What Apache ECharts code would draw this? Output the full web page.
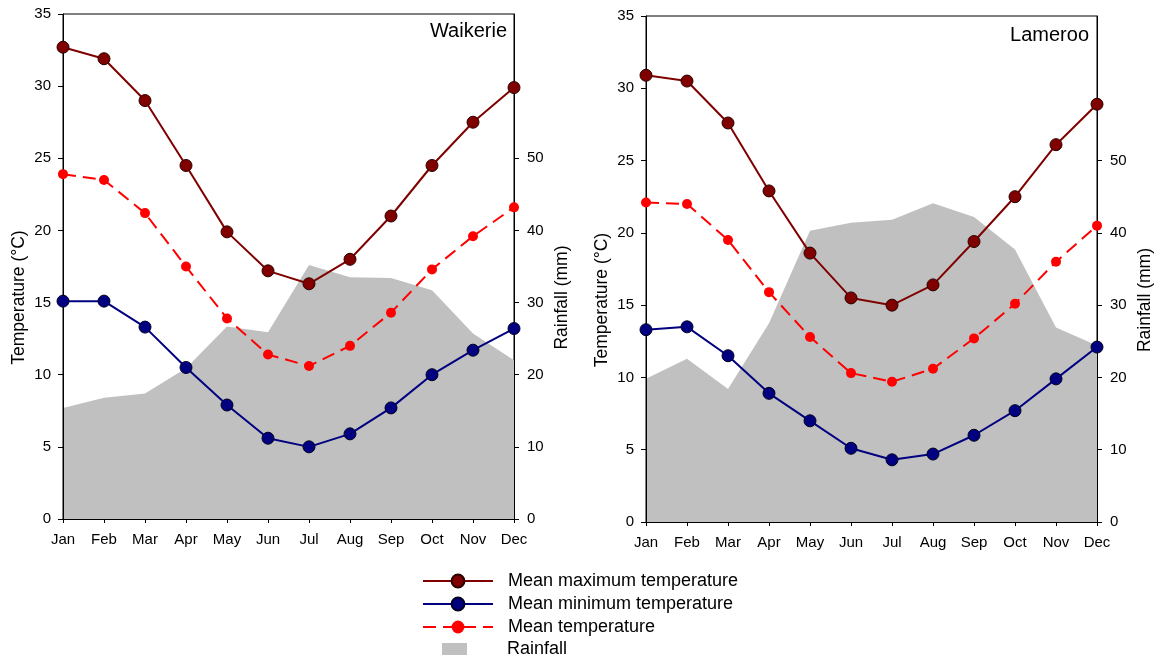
<!DOCTYPE html>
<html>
<head>
<meta charset="utf-8">
<script src="https://cdn.jsdelivr.net/npm/echarts@6/dist/echarts.min.js"></script>
<style>
html,body{margin:0;padding:0;background:#fff;}
#chart{width:1161px;height:662px;}
</style>
</head>
<body>
<div id="chart"></div>
<script>
// ---- Data ----
const months = ['Jan','Feb','Mar','Apr','May','Jun','Jul','Aug','Sep','Oct','Nov','Dec'];
const stations = ['Waikerie', 'Lameroo'];

const waikerieMax  = [32.7, 31.9, 29.0, 24.5, 19.9, 17.2, 16.3, 18.0, 21.0, 24.5, 27.5, 29.9];
const waikerieMean = [23.9, 23.5, 21.2, 17.5, 13.9, 11.4, 10.6, 12.0, 14.3, 17.3, 19.6, 21.6];
const waikerieMin  = [15.1, 15.1, 13.3, 10.5, 7.9, 5.6, 5.0, 5.9, 7.7, 10.0, 11.7, 13.2];
const waikerieRain = [15.4, 16.8, 17.4, 20.9, 26.7, 25.9, 35.2, 33.5, 33.4, 31.7, 25.7, 22.0];

const lamerooMax  = [30.9, 30.5, 27.6, 22.9, 18.6, 15.5, 15.0, 16.4, 19.4, 22.5, 26.1, 28.9];
const lamerooMean = [22.1, 22.0, 19.5, 15.9, 12.8, 10.3, 9.7, 10.6, 12.7, 15.1, 18.0, 20.5];
const lamerooMin  = [13.3, 13.5, 11.5, 8.9, 7.0, 5.1, 4.3, 4.7, 6.0, 7.7, 9.9, 12.1];
const lamerooRain = [19.8, 22.6, 18.4, 27.5, 40.3, 41.4, 41.8, 44.1, 42.2, 37.7, 26.9, 24.4];

const tempTicks = [0, 5, 10, 15, 20, 25, 30, 35];
const rainTicks = [0, 10, 20, 30, 40, 50];

const NAME_MAX = 'Mean maximum temperature';
const NAME_MIN = 'Mean minimum temperature';
const NAME_MEAN = 'Mean temperature';
const NAME_RAIN = 'Rainfall';

// ---- Chart ----
const FONT = '"Liberation Sans", Arial, sans-serif';
const chart = echarts.init(document.getElementById('chart'), null, {renderer: 'canvas'});

const grids = [
  {left: 63, top: 14, width: 451, height: 505},
  {left: 646, top: 16, width: 451, height: 506}
];

const xAxes = [], yAxes = [], series = [];
const datasets = [
  {max: waikerieMax, mean: waikerieMean, min: waikerieMin, rain: waikerieRain},
  {max: lamerooMax, mean: lamerooMean, min: lamerooMin, rain: lamerooRain}
];

const axisLineStyle = {color: '#000', width: 1};
const labelStyle = {color: '#000', fontSize: 15, fontFamily: FONT};
const nameStyle = {color: '#000', fontSize: 17.5, fontFamily: FONT};

datasets.forEach((d, i) => {
  xAxes.push({
    type: 'category', gridIndex: i, data: months, boundaryGap: false, z: 5,
    axisLine: {lineStyle: axisLineStyle},
    axisTick: {show: true, length: 4, lineStyle: axisLineStyle, alignWithLabel: true},
    axisLabel: Object.assign({margin: 13, interval: 0}, labelStyle),
    splitLine: {show: false}
  });
  yAxes.push({
    type: 'value', gridIndex: i, min: 0, max: 35, interval: 5, position: 'left', z: 5,
    name: 'Temperature (\u00B0C)', nameLocation: 'middle', nameGap: 35,
    nameTextStyle: Object.assign({padding: [0, 62, 0, 0]}, nameStyle),
    axisLine: {show: true, lineStyle: axisLineStyle},
    axisTick: {show: true, length: 5, lineStyle: axisLineStyle, customValues: tempTicks},
    axisLabel: Object.assign({margin: 12, customValues: tempTicks}, labelStyle),
    splitLine: {show: false}
  });
  yAxes.push({
    type: 'value', gridIndex: i, min: 0, max: 70, position: 'right', z: 5,
    name: 'Rainfall (mm)', nameLocation: 'middle', nameGap: 39,
    nameTextStyle: Object.assign({padding: [0, 62, 0, 0]}, nameStyle),
    axisLine: {show: true, lineStyle: axisLineStyle},
    axisTick: {show: true, length: 5, lineStyle: axisLineStyle, customValues: rainTicks},
    axisLabel: Object.assign({margin: 13, customValues: rainTicks}, labelStyle),
    splitLine: {show: false}
  });
  const yT = i * 2, yR = i * 2 + 1;
  series.push({
    name: NAME_RAIN, type: 'line', xAxisIndex: i, yAxisIndex: yR, data: d.rain,
    symbol: 'none', smooth: false, z: 1,
    lineStyle: {width: 0, color: '#c0c0c0'},
    itemStyle: {color: '#c0c0c0'},
    areaStyle: {color: '#c0c0c0', opacity: 1},
    silent: true
  });
  series.push({
    name: NAME_MAX, type: 'line', xAxisIndex: i, yAxisIndex: yT, data: d.max,
    symbol: 'circle', symbolSize: 12, z: 10,
    lineStyle: {width: 2, color: '#800000'},
    itemStyle: {color: '#800000', borderColor: '#2a0000', borderWidth: 1}
  });
  series.push({
    name: NAME_MIN, type: 'line', xAxisIndex: i, yAxisIndex: yT, data: d.min,
    symbol: 'circle', symbolSize: 12, z: 10,
    lineStyle: {width: 2, color: '#000080'},
    itemStyle: {color: '#000080', borderColor: '#000022', borderWidth: 1}
  });
  series.push({
    name: NAME_MEAN, type: 'line', xAxisIndex: i, yAxisIndex: yT, data: d.mean,
    symbol: 'circle', symbolSize: 10, z: 10,
    lineStyle: {width: 2, color: '#ff0000', type: [13, 7]},
    itemStyle: {color: '#ff0000', borderWidth: 0}
  });
});

const option = {
  backgroundColor: '#fff',
  animation: false,
  textStyle: {fontFamily: FONT},
  title: [
    {text: stations[0], right: 1161 - 507, top: 21, padding: 0,
     textStyle: {fontSize: 20, fontWeight: 'normal', color: '#000', fontFamily: FONT}},
    {text: stations[1], right: 1161 - 1089, top: 25, padding: 0,
     textStyle: {fontSize: 20, fontWeight: 'normal', color: '#000', fontFamily: FONT}}
  ],
  grid: grids.map(g => Object.assign({show: true, borderColor: '#000', borderWidth: 1, backgroundColor: 'transparent', containLabel: false}, g)),
  legend: [
    {
      data: [NAME_MAX, NAME_MIN, NAME_MEAN],
      orient: 'vertical', left: 422, top: 572, padding: 0,
      itemWidth: 70, itemHeight: 16, itemGap: 5, selectedMode: false,
      textStyle: {fontSize: 18, color: '#000', fontFamily: FONT, padding: [0, 0, 0, 10]}
    },
    {
      data: [{name: NAME_RAIN, icon: 'rect'}],
      orient: 'vertical', left: 442, top: 640, padding: 0,
      itemWidth: 25, itemHeight: 12, selectedMode: false,
      itemStyle: {color: '#c0c0c0'},
      textStyle: {fontSize: 18, color: '#000', fontFamily: FONT, padding: [0, 0, 0, 35]}
    }
  ],
  xAxis: xAxes,
  yAxis: yAxes,
  series: series
};
chart.setOption(option);
</script>
</body>
</html>
